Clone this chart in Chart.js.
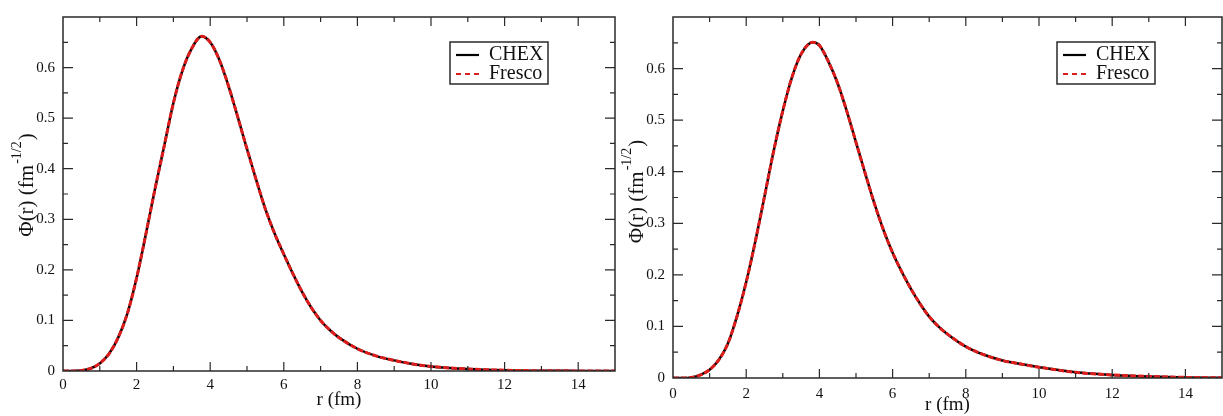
<!DOCTYPE html>
<html>
<head>
<meta charset="utf-8">
<script src="https://cdn.jsdelivr.net/npm/chart.js@4.4.0/dist/chart.umd.min.js"></script>
<style>
  html, body { margin: 0; padding: 0; background: #fff; }
  body { width: 1223px; height: 416px; position: relative; overflow: hidden; }
  .panel { position: absolute; top: 0; }
  #p1 { left: 0; }
  #p2 { left: 610px; }
</style>
</head>
<body>
<div class="panel" id="p1"><canvas id="c1" width="622" height="416"></canvas></div>
<div class="panel" id="p2"><canvas id="c2" width="613" height="416"></canvas></div>
<script>
// ---- data ----
const seriesNames = ["CHEX", "Fresco"];
const xTickLabels = [0, 2, 4, 6, 8, 10, 12, 14];
const yTickLabels = [0, 0.1, 0.2, 0.3, 0.4, 0.5, 0.6];

const rLeft = [0,0.25,0.5,0.75,1,1.25,1.5,1.75,2,2.25,2.5,2.75,3,3.25,3.5,3.77,4,4.25,4.5,4.75,5,5.25,5.5,5.75,6,6.25,6.5,6.75,7,7.25,7.5,8,8.5,9,9.5,10,11,12,13,14,15];
const chexLeft = [0,0,0.001,0.005,0.015,0.034,0.066,0.114,0.184,0.27,0.36,0.445,0.53,0.595,0.638,0.662,0.650,0.615,0.563,0.502,0.439,0.378,0.320,0.272,0.231,0.192,0.156,0.125,0.100,0.081,0.066,0.044,0.030,0.021,0.014,0.009,0.004,0.0015,0.0005,0.0002,0];
const frescoLeft = [0,0,0.001,0.005,0.015,0.034,0.066,0.114,0.184,0.27,0.36,0.445,0.53,0.595,0.638,0.662,0.650,0.615,0.563,0.502,0.439,0.378,0.320,0.272,0.231,0.192,0.156,0.125,0.100,0.081,0.066,0.044,0.030,0.021,0.014,0.009,0.004,0.0015,0.0005,0.0002,0];

const rRight = [0,0.25,0.5,0.75,1,1.25,1.5,1.75,2,2.25,2.5,2.75,3,3.25,3.5,3.82,4,4.25,4.5,4.75,5,5.25,5.5,5.75,6,6.25,6.5,6.75,7,7.25,7.5,8,8.5,9,9.5,10,11,12,13,14,15];
const chexRight = [0,0,0.001,0.006,0.016,0.035,0.067,0.12,0.186,0.265,0.352,0.44,0.518,0.583,0.628,0.651,0.645,0.613,0.571,0.517,0.457,0.397,0.339,0.287,0.243,0.206,0.173,0.144,0.119,0.100,0.085,0.061,0.045,0.034,0.027,0.021,0.011,0.006,0.003,0.0012,0.0005];
const frescoRight = [0,0,0.001,0.006,0.016,0.035,0.067,0.12,0.186,0.265,0.352,0.44,0.518,0.583,0.628,0.651,0.645,0.613,0.571,0.517,0.457,0.397,0.339,0.287,0.243,0.206,0.173,0.144,0.119,0.100,0.085,0.061,0.045,0.034,0.027,0.021,0.011,0.006,0.003,0.0012,0.0005];

// ---- helpers ----
const SERIF = "'Liberation Serif', 'DejaVu Serif', serif";
function pts(xs, ys) { return xs.map((x, i) => ({ x: x, y: ys[i] })); }

const framePlugin = {
  id: 'frameTicks',
  afterDatasetsDraw(chart, args, opts) {
    const ctx = chart.ctx, a = chart.chartArea;
    const xs = chart.scales.x, ys = chart.scales.y;
    ctx.save();
    ctx.strokeStyle = '#2a2a2a';
    ctx.lineWidth = 1.5;
    ctx.strokeRect(a.left, a.top, a.right - a.left, a.bottom - a.top);
    ctx.lineWidth = 1.2;
    ctx.beginPath();
    for (let v = 1; v < 15; v += 1) {
      const px = xs.getPixelForValue(v);
      const len = (v % 2 === 0) ? 9 : 5;
      ctx.moveTo(px, a.bottom); ctx.lineTo(px, a.bottom - len);
      ctx.moveTo(px, a.top); ctx.lineTo(px, a.top + len);
    }
    for (let k = 1; k < 14; k++) {
      const v = k * 0.05;
      const py = ys.getPixelForValue(v);
      const len = (k % 2 === 0) ? 10 : 5;
      ctx.moveTo(a.left, py); ctx.lineTo(a.left + len, py);
      ctx.moveTo(a.right, py); ctx.lineTo(a.right - len, py);
    }
    ctx.stroke();

    // legend
    const bw = 98, bh = 42;
    const bx = a.right - 67 - bw, by = a.top + 25;
    ctx.fillStyle = '#fff';
    ctx.fillRect(bx, by, bw, bh);
    ctx.strokeStyle = '#2a2a2a';
    ctx.lineWidth = 1.5;
    ctx.strokeRect(bx, by, bw, bh);
    ctx.lineWidth = 2.2;
    ctx.strokeStyle = '#000';
    ctx.setLineDash([]);
    ctx.beginPath(); ctx.moveTo(bx + 6, by + 13); ctx.lineTo(bx + 29, by + 13); ctx.stroke();
    ctx.strokeStyle = '#dd1c1c';
    ctx.setLineDash([5, 4]);
    ctx.beginPath(); ctx.moveTo(bx + 6, by + 32); ctx.lineTo(bx + 29, by + 32); ctx.stroke();
    ctx.setLineDash([]);
    ctx.fillStyle = '#111';
    ctx.font = '20px ' + SERIF;
    ctx.textAlign = 'left';
    ctx.textBaseline = 'middle';
    ctx.fillText(seriesNames[0], bx + 39, by + 13);
    ctx.fillText(seriesNames[1], bx + 39, by + 32);

    // y-axis title with superscript
    const cy = (a.top + a.bottom) / 2 + (opts.dy || 0);
    const cx = 26;
    ctx.save();
    ctx.translate(cx, cy);
    ctx.rotate(-Math.PI / 2);
    const mainFont = '21px ' + SERIF, supFont = '14px ' + SERIF;
    ctx.font = mainFont; const w1 = ctx.measureText('\u03A6(r) (fm').width; const w3 = ctx.measureText(')').width;
    ctx.font = supFont; const w2 = ctx.measureText('-1/2').width;
    let x0 = -(w1 + w2 + w3) / 2;
    ctx.fillStyle = '#111';
    ctx.textBaseline = 'alphabetic';
    ctx.textAlign = 'left';
    ctx.font = mainFont; ctx.fillText('\u03A6(r) (fm', x0, 7);
    ctx.font = supFont; ctx.fillText('-1/2', x0 + w1 + 1, -5);
    ctx.font = mainFont; ctx.fillText(')', x0 + w1 + w2 + 2, 7);
    ctx.restore();
    ctx.restore();
  }
};

function makeChart(id, xs, chex, fresco, geo) {
  return new Chart(document.getElementById(id), {
    type: 'line',
    data: {
      datasets: [
        { label: seriesNames[0], data: pts(xs, chex), borderColor: '#000', borderWidth: 2.5,
          pointRadius: 0, cubicInterpolationMode: 'monotone', order: 2, fill: false },
        { label: seriesNames[1], data: pts(xs, fresco), borderColor: '#dd1c1c', borderWidth: 3,
          borderDash: [6, 2], pointRadius: 0, cubicInterpolationMode: 'monotone', order: 1, fill: false }
      ]
    },
    options: {
      responsive: false,
      animation: false,
      devicePixelRatio: 1,
      layout: { padding: { top: geo.top, right: geo.right, left: 0, bottom: 0 } },
      plugins: { legend: { display: false }, tooltip: { enabled: false }, frameTicks: { dy: geo.dy } },
      scales: {
        x: {
          type: 'linear', min: 0, max: 15,
          grid: { display: false, drawTicks: false },
          border: { display: false },
          afterFit(s) { s.height = geo.xh; },
          ticks: {
            stepSize: 2, includeBounds: false, autoSkip: false, maxRotation: 0, padding: geo.xpad,
            color: '#111', font: { family: SERIF, size: 15 },
            callback: (v) => xTickLabels.includes(v) ? String(v) : ''
          },
          title: { display: true, text: 'r (fm)', color: '#111', font: { family: SERIF, size: 19 },
                   padding: { top: 0, bottom: geo.tpad } }
        },
        y: {
          type: 'linear', min: 0, max: 0.7,
          grid: { display: false, drawTicks: false },
          border: { display: false },
          afterFit(s) { s.width = 63; },
          ticks: {
            stepSize: 0.1, includeBounds: false, autoSkip: false, padding: 8,
            color: '#111', font: { family: SERIF, size: 15 },
            callback: (v) => {
              const r = Math.round(v * 10) / 10;
              return yTickLabels.includes(r) ? (r === 0 ? '0' : r.toFixed(1)) : '';
            }
          }
        }
      }
    },
    plugins: [framePlugin]
  });
}

makeChart('c1', rLeft, chexLeft, frescoLeft, { top: 8, right: 7, xh: 45, xpad: 5, tpad: 5, dy: -8 });
makeChart('c2', rRight, chexRight, frescoRight, { top: 7, right: 1, xh: 38, xpad: 7, tpad: 0, dy: -5 });
</script>
</body>
</html>
